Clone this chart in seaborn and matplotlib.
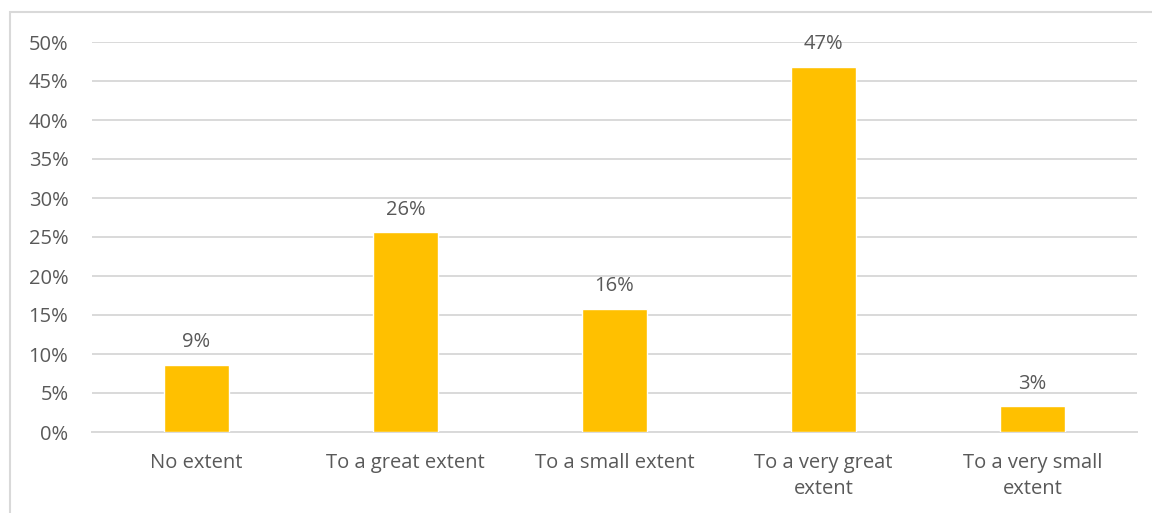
import matplotlib
matplotlib.use("Agg")
import matplotlib.pyplot as plt
from matplotlib.patches import Rectangle
from matplotlib.ticker import PercentFormatter
import seaborn as sns
import pandas as pd

# data
categories = ["No extent", "To a great extent", "To a small extent",
              "To a very great\nextent", "To a very small\nextent"]
shares = [0.086, 0.256, 0.158, 0.468, 0.033]
bar_labels = ["9%", "26%", "16%", "47%", "3%"]
y_ticks = [0.0, 0.05, 0.10, 0.15, 0.20, 0.25, 0.30, 0.35, 0.40, 0.45, 0.50]

df = pd.DataFrame({"category": categories, "share": shares})

sns.set_theme(style="white")
plt.rcParams["font.family"] = ["Open Sans", "DejaVu Sans"]

text_col = "#595959"
grid_col = "#d9d9d9"
fs = 14.5

fig = plt.figure(figsize=(11.52, 5.13), dpi=100)
ax = fig.add_axes([92 / 1152, 1 - 432 / 513, (1137 - 92) / 1152, (432 - 42) / 513])

sns.barplot(data=df, x="category", y="share", color="#FFC000", width=0.315,
            saturation=1, ax=ax, zorder=3)

ax.set_ylim(0, 0.5)
ax.set_yticks(y_ticks)
ax.yaxis.set_major_formatter(PercentFormatter(1.0, decimals=0))
ax.grid(axis="y", color=grid_col, linewidth=1.4, zorder=0)
ax.set_axisbelow(True)
for s in ["top", "right", "left"]:
    ax.spines[s].set_visible(False)
ax.spines["bottom"].set_color(grid_col)
ax.spines["bottom"].set_linewidth(1.4)
ax.set_xlabel("")
ax.set_ylabel("")
ax.tick_params(axis="both", length=0, labelsize=fs, colors=text_col)
ax.tick_params(axis="y", pad=17)
ax.tick_params(axis="x", pad=15)
for t in ax.get_xticklabels():
    t.set_linespacing(1.4)

for i, (v, lab) in enumerate(zip(shares, bar_labels)):
    ax.annotate(lab, (i, v), xytext=(0, 9), textcoords="offset points",
                ha="center", va="bottom", fontsize=fs, color=text_col)

# outer chart frame (cut off at right and bottom in the reference)
fig.patches.append(Rectangle((10 / 1152, -0.1), 1.2, 1 - 12 / 513 + 0.1,
                             transform=fig.transFigure, fill=False,
                             edgecolor=grid_col, linewidth=1.5))

fig.savefig("out.png", dpi=100)
